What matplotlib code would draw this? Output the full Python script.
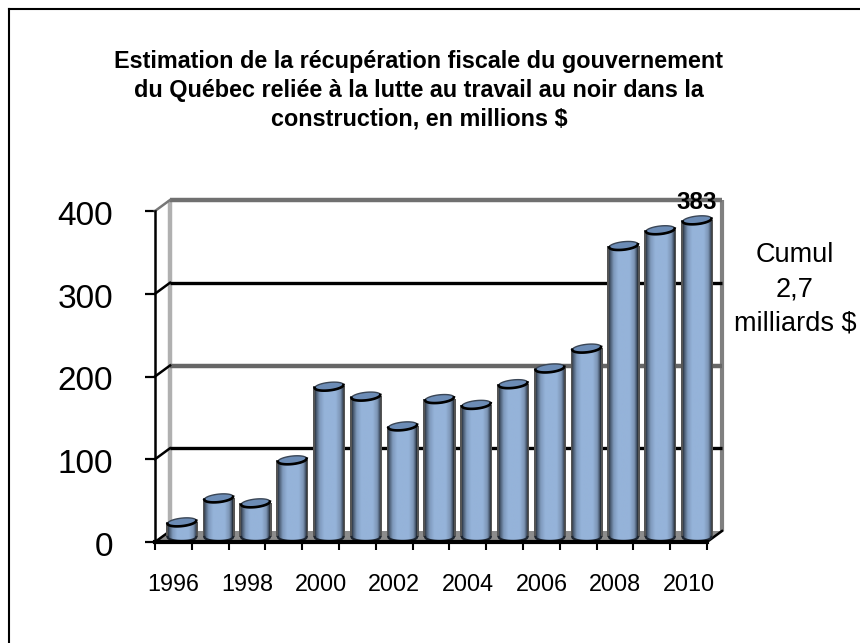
import matplotlib
matplotlib.use('Agg')
import matplotlib.pyplot as plt
import numpy as np
from matplotlib.colors import LinearSegmentedColormap
from matplotlib.lines import Line2D
from matplotlib.patches import Polygon, PathPatch, Rectangle
from matplotlib.path import Path
from matplotlib.transforms import ScaledTranslation

plt.rcParams['font.family'] = ['Liberation Sans', 'DejaVu Sans']

years = list(range(1996, 2011))
values = [18, 47, 41, 93, 182, 170, 134, 167, 160, 185, 204, 228, 352, 371, 383]
y_ticks = [0, 100, 200, 300, 400]
x_labels = ['1996', '1998', '2000', '2002', '2004', '2006', '2008', '2010']
title = ("Estimation de la récupération fiscale du gouvernement\n"
         "du Québec reliée à la lutte au travail au noir dans la\n"
         "construction, en millions $")

W, H = 860, 643
# front plot area in pixels
left, right, top, bottom = 155, 707, 211, 542
px_x = (right - left) / len(years)
px_y = (bottom - top) / 400.0
# depth of the 3d box, in data units
dx = 15 / px_x
dy = 11 / px_y

fig = plt.figure(figsize=(W / 100, H / 100), dpi=100)
# outer frame: only top and left fall inside the picture
fig.add_artist(Line2D([8.5 / W, 8.5 / W], [0, 1 - 9 / H], color='black', lw=1.5))
fig.add_artist(Line2D([8.5 / W, 1], [1 - 9 / H, 1 - 9 / H], color='black', lw=1.5))
ax = fig.add_axes([left / W, 1 - bottom / H, (right - left) / W, (bottom - top) / H])
ax.patch.set_visible(False)
ax.set_xlim(0, len(years))
ax.set_ylim(0, 400)

# floor and walls
n = len(years)
ax.add_patch(Polygon([(0, 0), (dx, dy), (n + dx, dy), (n, 0)], closed=True, fc='#8c8c8c',
                     ec='none', zorder=1, clip_on=False))
ax.plot([dx, dx], [dy, 400 + dy], color='#b0b0b0', lw=3.2, zorder=1, clip_on=False, solid_capstyle='butt')
ax.plot([n + dx, n + dx], [dy, 400 + dy], color='#808080', lw=3, zorder=1, clip_on=False, solid_capstyle='butt')
grid_colors = {100: 'black', 200: '#666666', 300: 'black', 400: '#707070'}
grid_widths = {100: 2.4, 200: 3.2, 300: 2.4, 400: 3.2}
for t in y_ticks[1:]:
    ax.plot([dx, n + dx], [t + dy, t + dy], color=grid_colors[t], lw=grid_widths[t],
            zorder=2, clip_on=False, solid_capstyle='butt')
for t in y_ticks:
    ax.plot([0, dx], [t, t + dy], color='black' if t < 400 else '#777777', lw=1.8, zorder=2, clip_on=False)
ax.plot([n, n + dx], [0, dy], color='black', lw=1.8, zorder=2, clip_on=False)

# cylinders
cmap = LinearSegmentedColormap.from_list('cyl', [
    (0.0, '#2f3a4a'), (0.05, '#4e5f76'), (0.16, '#7f9abd'), (0.32, '#95b3d9'),
    (0.72, '#95b3d9'), (0.88, '#7d95b5'), (0.96, '#46566c'), (1.0, '#1d2530')])
grad = np.linspace(0, 1, 64).reshape(1, -1)
bar_w = 0.78
off_x = 8.5 / px_x
off_y = 5.0 / px_y
ry = 5.0 / px_y
tilt = 2.5 / px_y / (bar_w / 2)
t_ = np.linspace(0, np.pi, 40)
for i, v in enumerate(values):
    cx = i + 0.5 + off_x
    xa, xb = cx - bar_w / 2, cx + bar_w / 2
    ytop = v + off_y
    ybase = off_y
    # rim of the base, and the top edge seen from above
    bx = cx - bar_w / 2 * np.cos(t_)
    by = ybase - ry * 0.8 * np.sin(t_)
    verts = [(xa, ytop)] + list(zip(bx, by)) + [(xb, ytop), (xa, ytop)]
    body = PathPatch(Path(verts), fc='none', ec='none', transform=ax.transData)
    ax.add_patch(body)
    ax.add_patch(Rectangle((xa - 0.05, ybase), bar_w + 0.1, v, fc='#555555', ec='none', zorder=3, clip_on=False))
    im = ax.imshow(grad, extent=[xa, xb, ybase - ry, ytop], aspect='auto', cmap=cmap, zorder=4)
    im.set_clip_path(body)
    im.set_clip_box(fig.bbox)
    ax.plot(bx, by, color='#1d2530', lw=1.6, zorder=5, clip_on=False)
    # top ellipse, with a heavier front rim
    a = np.linspace(0, 2 * np.pi, 60)
    ex = cx + bar_w / 2 * np.cos(a)
    ey = ytop + ry * 0.8 * np.sin(a) + tilt * (ex - cx) * 0.6
    ax.add_patch(Polygon(np.column_stack([ex, ey]), closed=True, fc='#6c8cb6', ec='#3a4656', lw=1.0, zorder=6,
                         clip_on=False))
    ax.plot(ex[30:], ey[30:], color='black', lw=1.9, zorder=6, clip_on=False)
ax.set_xlim(0, n)
ax.set_ylim(0, 400)

# axes
for s in ['top', 'right']:
    ax.spines[s].set_visible(False)
ax.spines['left'].set_linewidth(1.8)
ax.spines['bottom'].set_linewidth(3.0)
ax.spines['bottom'].set_zorder(7)
ax.set_yticks(y_ticks)
ax.set_yticklabels([str(t) for t in y_ticks], fontsize=24)
ax.tick_params(axis='y', length=7, width=1.6, pad=23)
ax.set_xticks(range(n + 1))
ax.set_xticklabels([])
ax.set_xticks(np.arange(0.5, n, 2), minor=True)
ax.set_xticklabels(x_labels, minor=True, fontsize=16.8)
ax.tick_params(axis='x', which='major', length=6, width=1.5)
ax.tick_params(axis='x', which='minor', length=0, pad=22)
for lab in ax.get_yticklabels():
    lab.set_transform(lab.get_transform() + ScaledTranslation(0, -2 / 100, fig.dpi_scale_trans))

ax.text(n - 1 + 0.5 + off_x, values[-1] + off_y + 7, str(values[-1]), ha='center', va='bottom',
        fontsize=17.5, fontweight='bold', zorder=8, clip_on=False)

fig.text(419 / W, 1 - 90 / H, title, ha='center', va='center', fontsize=16.8,
         fontweight='bold', linespacing=1.33)
fig.text(795 / W, 1 - 289 / H, "Cumul\n2,7\nmilliards $", ha='center', va='center',
         fontsize=19.5, linespacing=1.4)

fig.savefig('out.png', dpi=100)
